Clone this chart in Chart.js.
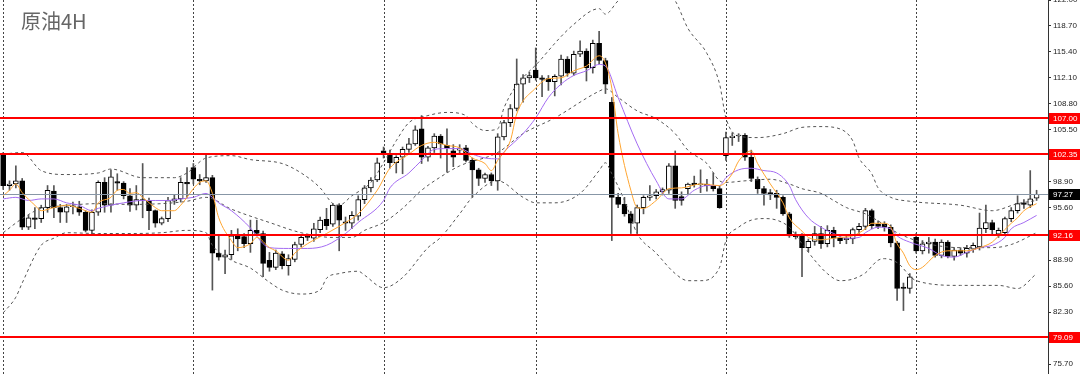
<!DOCTYPE html>
<html>
<head>
<meta charset="utf-8">
<title>原油4H</title>
<script src="https://cdn.jsdelivr.net/npm/chart.js@4.4.0/dist/chart.umd.min.js"></script>
<style>
    html, body { margin: 0; padding: 0; background: #fff; }
    #wrap { width: 1080px; height: 374px; }
</style>
</head>
<body>
<div id="wrap"><canvas id="oilChart" width="1080" height="374"></canvas></div>
<script>
// Data candle 4H
const opens = [
    102.3, 98.4, 98.6, 99.0, 93.1, 94.3, 94.2, 95.6, 97.7, 95.6,
    95.0, 95.7, 95.7, 95.0, 92.7, 95.0, 98.8, 95.9, 98.9, 98.7,
    97.1, 95.9, 96.6, 96.5, 95.2, 93.6, 94.2, 96.4, 96.7, 98.8,
    100.7, 99.2, 99.0, 99.4, 89.8, 89.3, 89.6, 92.0, 91.9, 91.0,
    92.7, 92.3, 88.9, 88.0, 89.7, 88.2, 89.0, 90.9, 91.9, 91.7,
    92.8, 94.1, 93.5, 95.9, 93.8, 93.6, 94.5, 96.6, 98.1, 99.1,
    102.8, 102.4, 101.3, 102.0, 103.0, 103.7, 105.6, 102.0, 103.2, 104.7,
    103.5, 102.8, 102.9, 103.2, 101.6, 100.4, 99.3, 99.8, 99.0, 104.6,
    106.4, 108.2, 111.3, 112.1, 113.1, 112.1, 112.0, 111.6, 112.3, 114.5,
    112.7, 115.1, 115.5, 113.4, 116.5, 114.3, 109.0, 96.9, 96.0, 94.8,
    93.6, 95.6, 96.9, 97.1, 97.6, 97.8, 100.9, 97.0, 98.0, 98.7,
    98.5, 98.6, 98.4, 98.0, 102.2, 104.5, 104.7, 104.8, 102.0, 99.2,
    98.0, 97.5, 97.4, 96.9, 94.8, 92.1, 92.0, 90.5, 91.3, 92.3,
    91.0, 92.7, 91.7, 91.5, 91.6, 92.8, 93.2, 95.2, 93.5, 93.5,
    93.1, 91.1, 85.5, 85.3, 91.8, 90.1, 91.0, 91.2, 89.5, 91.2,
    89.4, 90.2, 89.8, 90.3, 90.6, 92.9, 93.7, 92.2, 92.4, 94.2,
    95.2, 96.2, 95.9, 96.8
];
const highs = [
    102.6, 99.0, 100.9, 99.3, 94.6, 95.6, 95.9, 98.4, 98.4, 96.0,
    96.0, 96.3, 96.4, 95.2, 95.3, 99.0, 99.4, 100.4, 99.9, 98.9,
    98.0, 98.4, 101.2, 96.8, 95.3, 94.4, 96.9, 97.2, 99.4, 100.7,
    101.2, 99.8, 102.4, 99.7, 92.0, 90.2, 92.7, 92.9, 92.3, 94.0,
    94.0, 92.6, 89.9, 90.2, 90.0, 89.6, 91.2, 92.1, 92.2, 93.6,
    94.4, 95.5, 96.1, 96.1, 94.4, 95.1, 97.1, 98.4, 99.4, 101.9,
    103.3, 102.9, 102.2, 103.3, 104.4, 106.0, 107.3, 103.4, 105.0, 104.9,
    105.6, 103.6, 103.6, 103.5, 101.9, 100.6, 100.0, 100.0, 105.0, 106.7,
    108.7, 114.5, 112.5, 112.8, 115.9, 112.4, 112.4, 112.5, 115.0, 114.8,
    115.5, 116.8, 115.8, 116.9, 118.0, 114.6, 109.6, 97.4, 96.9, 95.1,
    95.9, 97.1, 98.4, 97.9, 98.1, 101.2, 102.8, 97.6, 98.7, 99.6,
    100.4, 99.2, 100.0, 98.3, 105.2, 105.1, 105.0, 105.0, 102.9, 99.5,
    98.3, 97.9, 97.8, 97.1, 95.0, 92.5, 92.3, 91.6, 93.2, 93.2,
    93.3, 93.1, 92.0, 92.0, 93.0, 93.6, 95.5, 95.4, 93.9, 93.8,
    93.4, 91.3, 86.0, 87.2, 92.3, 91.4, 91.8, 91.6, 91.5, 91.4,
    90.5, 90.5, 90.8, 91.1, 94.9, 95.9, 94.0, 93.0, 94.4, 95.6,
    97.1, 96.6, 100.3, 97.8
];
const lows = [
    97.9, 97.8, 98.1, 92.8, 92.8, 92.9, 93.7, 95.0, 94.3, 93.7,
    93.7, 94.8, 94.6, 92.5, 92.2, 94.6, 95.0, 95.0, 97.8, 96.7,
    95.1, 95.3, 94.3, 92.8, 93.1, 93.4, 93.8, 96.0, 96.3, 96.9,
    98.6, 98.5, 98.8, 85.1, 88.9, 87.2, 89.0, 90.1, 90.5, 89.9,
    92.0, 86.8, 87.5, 87.7, 87.8, 87.0, 88.7, 90.6, 91.4, 91.3,
    92.4, 92.8, 93.2, 90.1, 92.7, 92.9, 94.0, 96.1, 97.6, 98.9,
    101.9, 100.6, 100.0, 99.9, 102.6, 103.5, 101.2, 101.5, 102.6, 101.9,
    100.1, 100.8, 102.4, 101.4, 96.9, 98.4, 98.8, 98.4, 97.8, 104.2,
    105.9, 107.9, 109.0, 111.5, 111.8, 109.7, 110.5, 109.8, 111.2, 112.3,
    112.4, 114.8, 111.7, 112.7, 113.9, 110.1, 91.4, 95.6, 94.5, 92.3,
    92.3, 94.8, 96.5, 96.7, 97.2, 97.4, 95.5, 95.9, 97.3, 98.2,
    97.5, 97.7, 97.7, 95.5, 101.6, 103.5, 104.0, 101.6, 98.9, 97.4,
    95.9, 96.6, 95.5, 94.6, 91.8, 91.6, 86.8, 90.0, 90.8, 90.4,
    90.6, 90.6, 91.0, 91.0, 91.0, 92.3, 92.8, 92.9, 92.9, 92.6,
    90.6, 83.8, 82.5, 84.7, 89.8, 89.7, 89.8, 89.3, 89.2, 89.2,
    88.9, 89.5, 89.3, 89.9, 90.2, 92.4, 92.2, 91.8, 92.1, 93.8,
    94.9, 95.5, 95.6, 96.5
];
const closes = [
    98.4, 98.6, 99.0, 93.1, 94.3, 94.1, 95.6, 97.8, 95.6, 95.0,
    95.7, 95.8, 95.0, 92.7, 95.0, 98.8, 95.9, 99.5, 98.7, 97.1,
    95.9, 96.6, 96.5, 95.2, 93.6, 94.2, 96.5, 96.7, 98.8, 98.6,
    99.2, 99.0, 99.4, 89.8, 89.3, 89.6, 92.0, 91.6, 91.0, 92.7,
    92.3, 88.5, 88.0, 89.8, 88.2, 89.1, 90.9, 91.8, 91.8, 92.9,
    94.0, 93.3, 95.9, 94.0, 93.6, 94.6, 96.6, 98.1, 99.1, 101.3,
    102.4, 101.3, 102.0, 103.0, 103.7, 105.5, 102.0, 103.2, 104.7, 103.7,
    103.2, 102.0, 103.1, 101.6, 100.4, 99.3, 99.8, 99.0, 104.6, 106.4,
    108.2, 111.3, 112.1, 112.4, 112.1, 111.9, 111.6, 112.3, 114.5, 112.7,
    115.1, 115.5, 113.4, 116.5, 114.3, 111.3, 96.9, 96.0, 94.8, 93.6,
    95.6, 96.9, 97.1, 97.6, 97.9, 100.9, 96.5, 96.5, 98.6, 98.5,
    98.6, 98.4, 98.0, 95.6, 104.5, 104.7, 104.8, 102.0, 99.3, 98.0,
    97.4, 97.2, 96.9, 94.8, 92.0, 91.9, 90.5, 91.3, 92.3, 91.0,
    92.7, 91.7, 91.4, 91.7, 92.8, 93.2, 95.2, 93.3, 93.2, 93.1,
    91.1, 85.3, 85.3, 86.8, 90.1, 91.0, 91.2, 89.5, 91.2, 89.4,
    90.2, 89.8, 90.4, 90.8, 93.0, 93.7, 92.8, 92.7, 94.2, 95.2,
    96.1, 96.0, 96.7, 97.27
];

// MA cepat (oranye) dan MA lambat (ungu): [index bar], [harga]
const fastIdx = [0, 1, 2, 3, 5, 6, 8, 10, 12, 14, 15, 17, 18, 19, 20, 21, 22, 24, 25, 27,
    28, 29, 30, 31, 32, 33, 34, 36, 37, 39, 40, 42, 43, 45, 46, 48, 51, 54, 56, 59,
    61, 64, 66, 68, 70, 72, 74, 76, 77, 78, 80, 81, 84, 86, 88, 90, 92, 94, 95, 96,
    97, 99, 100, 101, 103, 105, 107, 110, 113, 115, 116, 118, 119, 121, 123, 124, 126, 127, 129, 131,
    132, 134, 136, 137, 139, 140, 141, 142, 143, 144, 145, 147, 149, 151, 152, 154, 156, 157, 159, 160,
    161, 163];
const fastVal = [97.1, 97.8, 98.6, 97.5, 95.9, 95.2, 95.6, 95.9, 95.5, 95.0, 96.2, 96.9, 97.8, 97.9, 97.4, 97.5, 96.9, 95.6, 95.2, 95.2,
    95.9, 96.9, 98.0, 98.8, 99.0, 97.4, 94.3, 91.4, 90.5, 91.0, 91.8, 90.5, 90.1, 88.9, 89.8, 91.0, 92.3, 93.7, 94.8, 97.8,
    100.6, 102.4, 103.5, 103.9, 103.5, 103.2, 101.9, 101.2, 100.3, 101.6, 104.1, 107.5, 110.8, 112.0, 112.1, 113.0, 113.6, 114.9, 114.0, 110.8,
    105.0, 97.8, 95.6, 95.5, 96.5, 98.0, 98.1, 98.6, 98.4, 99.9, 101.5, 102.8, 101.2, 98.6, 96.2, 94.3, 92.6, 91.8, 91.5, 91.7,
    91.8, 92.0, 92.9, 93.6, 93.6, 93.1, 91.0, 89.8, 88.2, 87.7, 88.0, 89.5, 90.1, 90.1, 90.1, 90.5, 91.2, 92.0, 93.6, 94.3,
    95.2, 96.1];

const slowIdx = [0, 2, 4, 6, 8, 10, 12, 14, 15, 17, 19, 22, 24, 26, 28, 30, 32, 33, 34, 36,
    39, 41, 42, 45, 48, 51, 54, 56, 60, 61, 64, 66, 68, 70, 72, 74, 76, 78, 79, 82,
    84, 86, 88, 90, 92, 94, 95, 97, 100, 103, 105, 107, 109, 111, 113, 114, 116, 118, 120, 122,
    124, 125, 127, 129, 131, 133, 135, 136, 138, 140, 141, 143, 146, 148, 150, 152, 154, 156, 158, 159,
    161, 163];
const slowVal = [96.7, 96.9, 96.5, 96.7, 96.7, 96.2, 95.9, 95.2, 95.5, 95.9, 96.2, 96.5, 96.5, 96.5, 96.7, 96.9, 97.4, 96.9, 96.2, 95.2,
    93.0, 91.0, 90.5, 90.4, 90.4, 90.8, 92.3, 93.7, 96.5, 98.1, 100.0, 101.6, 103.0, 103.1, 103.1, 102.4, 101.9, 101.8, 102.7, 105.0,
    107.0, 109.6, 111.3, 112.4, 113.0, 113.8, 113.6, 109.6, 103.7, 99.0, 96.7, 96.7, 97.8, 98.4, 98.4, 99.4, 100.4, 100.6, 100.3, 100.0,
    98.4, 96.6, 94.3, 93.1, 92.3, 91.7, 91.8, 92.4, 93.1, 92.9, 92.0, 91.2, 90.4, 89.5, 89.3, 89.9, 90.5, 90.8, 91.8, 92.9,
    93.7, 94.6];

// Bollinger band: atas, tengah, bawah
const upperIdx = [0, 3, 6, 10, 15, 17, 22, 27, 29, 32, 36, 39, 44, 47, 50, 52, 53, 55, 58, 60,
    62, 64, 67, 70, 73, 74, 76, 78, 79, 85, 90, 94, 95, 97, 100, 102, 104, 106, 108, 111,
    113, 114, 116, 119, 123, 126, 129, 132, 134, 135, 137, 138, 140, 143, 151, 156, 160, 163];
const upperVal = [102.4, 102.6, 100.3, 99.8, 100.0, 100.5, 99.4, 99.4, 100.0, 101.9, 102.2, 101.7, 101.2, 100.0, 98.1, 96.1, 95.9, 97.1, 98.8, 101.3,
    104.1, 106.4, 107.3, 107.7, 107.3, 106.3, 105.4, 105.6, 108.3, 114.6, 118.9, 120.9, 120.2, 121.9, 123.5, 124.0, 123.5, 121.9, 118.4, 115.2,
    111.3, 107.0, 104.7, 104.5, 105.0, 105.8, 105.9, 105.6, 104.1, 101.9, 99.9, 98.1, 96.9, 96.4, 95.9, 95.2, 96.1, 96.5];

const midIdx = [0, 3, 6, 9, 12, 15, 20, 25, 29, 32, 36, 42, 47, 52, 55, 57, 60, 63, 66, 69,
    72, 78, 82, 87, 94, 95, 97, 100, 103, 106, 108, 111, 113, 114, 117, 121, 124, 126, 129, 131,
    133, 136, 138, 141, 144, 147, 151, 156, 159, 163];
const midVal = [92.4, 94.2, 95.5, 95.8, 96.0, 96.1, 96.0, 96.1, 96.4, 96.9, 95.4, 93.7, 92.4, 91.8, 91.8, 92.7, 93.7, 95.5, 97.8, 99.5,
    100.9, 102.6, 105.0, 107.0, 110.4, 110.7, 109.6, 107.9, 106.9, 105.0, 102.9, 101.2, 99.0, 98.8, 99.0, 99.2, 98.6, 98.0, 97.4, 96.5,
    95.6, 94.8, 93.9, 92.4, 91.4, 90.8, 90.5, 90.5, 90.9, 92.4];

const lowerIdx = [0, 2, 3, 6, 8, 10, 15, 20, 25, 29, 32, 33, 36, 39, 42, 44, 47, 50, 51, 53,
    56, 57, 60, 63, 67, 69, 72, 74, 78, 82, 84, 87, 91, 94, 95, 96, 98, 100, 103, 106,
    108, 110, 113, 114, 116, 118, 120, 122, 124, 126, 128, 130, 132, 134, 136, 138, 139, 141, 144, 151,
    157, 160, 163];
const lowerVal = [82.2, 84.2, 86.0, 90.8, 91.7, 92.4, 92.3, 92.3, 92.4, 92.7, 92.4, 90.8, 88.9, 87.9, 86.1, 85.1, 84.6, 85.1, 86.6, 87.2,
    87.5, 87.0, 85.4, 86.7, 90.5, 91.8, 94.8, 96.9, 99.0, 96.9, 96.2, 96.2, 97.4, 100.3, 101.3, 99.9, 96.5, 92.3, 89.8, 87.2,
    86.3, 86.3, 88.0, 91.4, 93.1, 94.0, 94.2, 94.0, 93.1, 91.0, 88.9, 87.2, 86.3, 86.5, 87.3, 88.9, 89.1, 88.6, 86.3, 85.7,
    85.7, 85.3, 87.2];

// Garis level, harga terakhir, tick sumbu, pemisah hari
const levels = [107.00, 102.35, 92.16, 79.09];
const lastPrice = 97.27;
const tickValues = [75.70, 79.00, 82.30, 85.60, 88.90, 92.20, 95.60, 98.90, 102.20, 105.50, 108.80, 112.10, 115.40, 118.70, 122.00];
const separators = [0, 30, 60, 84, 114, 144];

function toPoints(xs, ys) {
    return xs.map(function(x, i) { return { x: x, y: ys[i] }; });
}

var wickData = [];
var bodyData = [];
var bodyColors = [];
for (var i = 0; i < opens.length; i++) {
    wickData.push({ x: i, y: [lows[i], highs[i]] });
    bodyData.push({ x: i, y: [Math.min(opens[i], closes[i]), Math.max(opens[i], closes[i])] });
    bodyColors.push(closes[i] >= opens[i] ? '#ffffff' : '#000000');
}

// plugin: pemisah hari, garis level, label harga, judul
const overlayPlugin = {
    id: 'overlay',
    beforeDatasetsDraw(chart) {
        const ctx = chart.ctx;
        const area = chart.chartArea;
        const xs = chart.scales.x;
        ctx.save();
        ctx.strokeStyle = '#444';
        ctx.lineWidth = 1;
        ctx.setLineDash([2, 2]);
        separators.forEach(function(idx) {
            var px = Math.round(xs.getPixelForValue(idx)) + 0.5;
            ctx.beginPath();
            ctx.moveTo(px, area.top);
            ctx.lineTo(px, area.bottom);
            ctx.stroke();
        });
        ctx.restore();
    },
    afterDatasetsDraw(chart) {
        const ctx = chart.ctx;
        const area = chart.chartArea;
        const ys = chart.scales.y;
        ctx.save();
        var gy = Math.round(ys.getPixelForValue(lastPrice));
        ctx.fillStyle = '#8796a6';
        ctx.fillRect(area.left, gy, area.right - area.left, 1);
        ctx.fillStyle = '#ff0000';
        levels.forEach(function(v) {
            var py = Math.round(ys.getPixelForValue(v));
            ctx.fillRect(area.left, py - 1, area.right - area.left, 2);
        });
        ctx.restore();
    },
    afterDraw(chart) {
        const ctx = chart.ctx;
        const ys = chart.scales.y;
        ctx.save();
        ctx.font = '8px "Liberation Sans", Arial, sans-serif';
        ctx.textBaseline = 'middle';
        ctx.textAlign = 'left';
        levels.forEach(function(v) {
            var py = Math.round(ys.getPixelForValue(v));
            ctx.fillStyle = '#ff0000';
            ctx.fillRect(1049, py - 5, 31, 11);
            ctx.fillStyle = '#ffffff';
            ctx.fillText(v.toFixed(2), 1053, py + 0.5);
        });
        var ly = Math.round(ys.getPixelForValue(lastPrice));
        ctx.fillStyle = '#000000';
        ctx.fillRect(1049, ly - 5, 31, 11);
        ctx.fillStyle = '#ffffff';
        ctx.fillText(lastPrice.toFixed(2), 1053, ly + 0.5);

        ctx.font = '20px "Noto Sans CJK SC", sans-serif';
        ctx.fillStyle = '#666666';
        ctx.textBaseline = 'middle';
        ctx.fillText('原油4H', 21, 21);
        ctx.restore();
    }
};

window.onload = function() {
    const ctx = document.getElementById('oilChart').getContext('2d');
    new Chart(ctx, {
        type: 'bar',
        data: {
            datasets: [
                {
                    type: 'line', label: 'MA cepat', data: toPoints(fastIdx, fastVal),
                    borderColor: '#ffa530', borderWidth: 1, pointRadius: 0,
                    cubicInterpolationMode: 'monotone', order: 0
                },
                {
                    type: 'line', label: 'MA lambat', data: toPoints(slowIdx, slowVal),
                    borderColor: '#a46cf2', borderWidth: 1, pointRadius: 0,
                    cubicInterpolationMode: 'monotone', order: 0
                },
                {
                    type: 'line', label: 'BB atas', data: toPoints(upperIdx, upperVal),
                    borderColor: '#555', borderWidth: 1, borderDash: [3, 3], pointRadius: 0,
                    cubicInterpolationMode: 'monotone', order: 0
                },
                {
                    type: 'line', label: 'BB tengah', data: toPoints(midIdx, midVal),
                    borderColor: '#555', borderWidth: 1, borderDash: [3, 3], pointRadius: 0,
                    cubicInterpolationMode: 'monotone', order: 0
                },
                {
                    type: 'line', label: 'BB bawah', data: toPoints(lowerIdx, lowerVal),
                    borderColor: '#555', borderWidth: 1, borderDash: [3, 3], pointRadius: 0,
                    cubicInterpolationMode: 'monotone', order: 0
                },
                {
                    label: 'Body', data: bodyData,
                    backgroundColor: bodyColors, borderColor: '#000', borderWidth: 1,
                    borderSkipped: false, barThickness: 5, minBarLength: 1,
                    grouped: false, order: 1
                },
                {
                    label: 'Sumbu', data: wickData,
                    backgroundColor: '#555', barThickness: 1,
                    grouped: false, order: 2
                }
            ]
        },
        options: {
            responsive: false,
            animation: false,
            devicePixelRatio: 1,
            layout: { padding: 0 },
            plugins: {
                legend: { display: false },
                tooltip: { enabled: false }
            },
            scales: {
                x: {
                    type: 'linear',
                    display: false,
                    offset: false,
                    min: -0.5,
                    max: 164.8
                },
                y: {
                    position: 'right',
                    min: 74.43,
                    max: 122.0,
                    beginAtZero: false,
                    afterBuildTicks: function(scale) {
                        scale.ticks = tickValues.map(function(v) { return { value: v }; });
                    },
                    afterFit: function(scale) {
                        scale.width = 32;
                        scale.paddingTop = 0;
                        scale.paddingBottom = 0;
                    },
                    grid: { drawOnChartArea: false, drawTicks: true, tickLength: 3, color: '#333' },
                    border: { display: true, color: '#333' },
                    ticks: {
                        padding: 2,
                        color: '#222',
                        font: { family: '"Liberation Sans", Arial, sans-serif', size: 8 },
                        callback: function(v) { return Number(v).toFixed(2); }
                    }
                }
            }
        },
        plugins: [overlayPlugin]
    });
};
</script>
</body>
</html>
